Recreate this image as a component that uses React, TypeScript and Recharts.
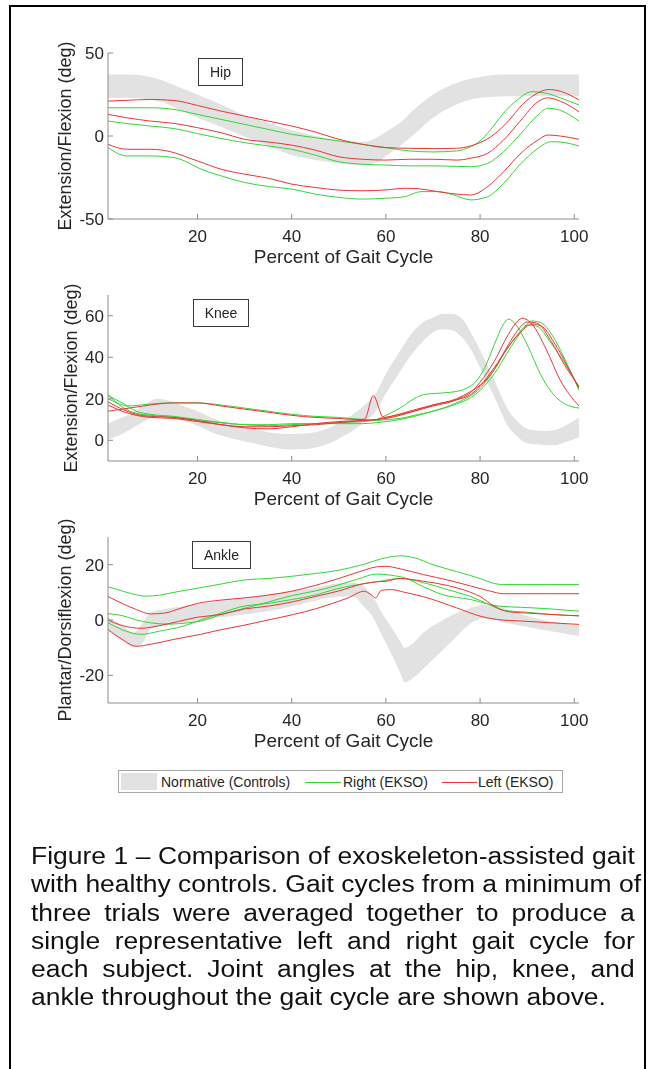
import React from "react";
import { ComposedChart, Line, Area, XAxis, YAxis, Legend } from "recharts";

const FONT = '"Liberation Sans", Arial, Helvetica, sans-serif';
const TEXT = "#262626";
const AXIS = "#8c8c8c";
const GREEN = "#33d633";
const RED = "#ec3434";
const BAND = "#e2e2e2";

type Pt = [number, number];
type BandPt = [number, number, number];

// shared x axis
const xTicks = [20, 40, 60, 80, 100];
const xDomain: [number, number] = [1, 101];
const xLabel = "Percent of Gait Cycle";

// ---- hip ----
const hipTicks = [-50, 0, 50];
const hipNormative: BandPt[] = [
  [1, 23, 37], [5, 23, 37], [10, 22, 35.5], [13, 20, 33], [16, 16, 29.5], [20, 11, 25],
  [25, 5.5, 19], [30, -0.5, 12.5], [35, -6, 8], [40, -11.5, 3.5], [45, -14.5, 0],
  [50, -16.5, -2.5], [55, -17.5, -3.5], [58, -16, -1], [60, -12, 2.5], [63, -6, 8],
  [66, 1, 16], [70, 11, 25], [75, 19, 32], [80, 23, 35.5], [85, 24, 37], [90, 24, 37],
  [95, 24, 37], [101, 24, 37],
];
const hipRightA: Pt[] = [
  [1, 17], [10, 17], [15, 16], [20, 13], [25, 10], [30, 7], [35, 4], [40, 1], [45, -1],
  [50, -3], [55, -5], [60, -7], [65, -9], [70, -9.6], [75, -9], [78, -6.4], [80, -3],
  [82, 3], [85, 13.8], [88, 22], [91, 26.7], [94, 25.8], [97, 23], [101, 18.7],
];
const hipRightB: Pt[] = [
  [1, 9], [5, 7.5], [10, 6], [15, 4.5], [20, 1.5], [25, -1.5], [30, -4], [35, -6], [40, -8],
  [45, -11.5], [50, -15.5], [55, -17], [60, -17.5], [65, -18], [70, -18], [75, -18.3],
  [78, -18.5], [81.6, -16.5], [85, -9.4], [88.7, 1.6], [92.3, 12.7], [94.4, 16.7],
  [97, 15.5], [101, 9],
];
const hipRightC: Pt[] = [
  [1, -7], [5, -12], [10, -12], [15, -13], [18, -16], [20, -19], [25, -24], [30, -28],
  [35, -30.4], [40, -32], [45, -35], [50, -37], [55, -38], [60, -37.5], [64, -36.6],
  [67.4, -33.5], [71, -33.5], [74.4, -35.5], [78, -38.5], [81.6, -36.6], [85, -28.5],
  [88.7, -16.5], [92.3, -7.4], [95.1, -3.4], [98, -4], [101, -6],
];
const hipLeftA: Pt[] = [
  [1, 21], [5, 21.5], [10, 22], [15, 21.4], [20, 18.4], [25, 15], [30, 12], [35, 9], [40, 6],
  [45, 2.4], [50, -2], [55, -5], [60, -7], [65, -7.4], [70, -7.6], [75, -7.4], [78, -6],
  [80, -4], [83, 1], [86, 9], [89, 19], [92, 25.5], [94.5, 28], [97, 27], [101, 21.7],
];
const hipLeftB: Pt[] = [
  [1, 13], [5, 11], [10, 9], [15, 7.6], [20, 5], [25, 2], [30, -2], [35, -3.6], [40, -5.5],
  [45, -8.5], [50, -12.5], [55, -14], [60, -14.5], [65, -14], [70, -14], [75, -14.5],
  [78, -13.4], [81.6, -10.4], [85, -2.4], [88.7, 9.6], [92.3, 20.7], [94.4, 23], [97, 21],
  [101, 14.6],
];
const hipLeftC: Pt[] = [
  [1, -5], [5, -8], [10, -8], [15, -10], [18, -13], [20, -15], [25, -20], [30, -23],
  [35, -25.4], [40, -29], [45, -31], [50, -32.6], [55, -33], [60, -32.5], [64, -31.5],
  [67, -31.8], [71, -33.5], [75, -35], [78, -35.5], [81.6, -30.5], [85, -21.5],
  [88.7, -10.3], [92.3, -2.4], [94.4, 0.6], [97, 0], [101, -2],
];

// ---- knee ----
const kneeTicks = [0, 20, 40, 60];
const kneeNormative: BandPt[] = [
  [1, 0.5, 8], [3, 2, 10], [6, 5.5, 13], [9, 9.5, 17.5], [11.5, 12, 20], [14, 11.5, 19],
  [17, 9.5, 16.5], [20, 7, 14], [24, 3, 10], [28, 0.5, 7.5], [32, -1.5, 5.5], [36, -3.5, 3.5],
  [40, -4.5, 3], [44, -4, 3.5], [48, -1.5, 6], [51, 2, 9.5], [55, 8, 16], [58, 14.5, 23],
  [60, 22.5, 32], [63, 33, 43], [65, 40, 50], [68, 48, 57], [70, 52, 59], [72, 53.5, 61],
  [74, 53, 61], [76, 50, 59], [78, 44, 52], [80, 35, 43.5], [83, 21, 29], [86, 6.5, 14.5],
  [88, 1.6, 9], [90, -1.5, 5.5], [93, -2.2, 4.5], [96, -2.4, 5], [98, -1, 7], [101, 1.5, 11],
];
const kneeRightA: Pt[] = [
  [1, 21.5], [4, 18], [7, 14], [10, 12.5], [15, 11.5], [20, 10], [25, 8.5], [30, 7.5],
  [35, 7], [40, 7.5], [45, 8], [50, 8.5], [55, 9], [58, 10], [60, 12], [63, 15.5], [66, 20],
  [68, 22], [72, 22.8], [75, 23.5], [77, 25], [79, 28], [81, 35], [83, 46], [85, 56],
  [86, 58.4], [87.5, 56], [90, 46], [93, 31], [96, 21], [98, 17.5], [101, 15.5],
];
const kneeRightB: Pt[] = [
  [1, 20], [3, 18], [5, 16.5], [8, 17], [10, 17.5], [15, 18], [20, 18], [25, 17], [30, 15.5],
  [35, 14], [40, 12.5], [45, 11.5], [50, 11], [55, 10], [58, 9.5], [60, 10], [63, 10.5],
  [66, 12], [70, 14], [75, 17.5], [78, 20.5], [80, 24], [83, 32], [86, 43], [89, 53],
  [91, 57.5], [93, 56.5], [96, 48], [98, 39], [101, 24],
];
const kneeRightC: Pt[] = [
  [1, 22], [4, 16], [7, 13], [10, 12], [15, 11], [20, 9.5], [25, 8.5], [30, 7.5], [35, 7.5],
  [40, 8], [45, 8], [50, 8], [55, 8], [58, 8.5], [60, 9], [63, 10], [66, 11.5], [70, 14],
  [75, 18], [78, 21.5], [80, 25], [83, 34], [86, 45], [88, 51], [90, 55.5], [92, 55],
  [95, 47], [98, 37], [101, 25.5],
];
const kneeLeftA: Pt[] = [
  [1, 18.5], [4, 15], [7, 12.5], [10, 11.5], [15, 11], [20, 9.5], [25, 7.5], [30, 6.5],
  [35, 6.5], [40, 7], [45, 7.5], [50, 8.5], [55, 9.5], [58, 10], [60, 11], [63, 12.5],
  [66, 14], [70, 16.5], [73, 18], [76, 20.5], [78, 23], [80, 28], [83, 38], [86, 51],
  [88, 57.5], [89, 58.8], [91, 56], [94, 44], [97, 29], [101, 16.5],
];
const kneeLeftB: Pt[] = [
  [1, 14], [4, 15], [7, 16], [10, 17], [15, 18], [20, 18], [25, 16.5], [30, 15], [35, 13.5],
  [40, 12], [45, 11], [50, 10.5], [54, 10], [55.5, 10.2], [57.3, 21.5], [59.5, 11], [62, 12],
  [65, 14], [70, 17], [75, 20], [78, 23.5], [80, 26.5], [83, 35], [86, 45], [89, 53],
  [91, 56], [93, 55], [96, 46], [98, 38], [101, 25],
];
const kneeLeftC: Pt[] = [
  [1, 17], [4, 14], [7, 12], [10, 11], [15, 10.5], [20, 9], [25, 7.5], [30, 6], [35, 5.5],
  [40, 6.5], [45, 8], [50, 9], [55, 9.5], [60, 10.5], [63, 12], [66, 14], [70, 17],
  [75, 19.5], [78, 22], [80, 26], [83, 34], [86, 46], [88, 53], [90, 57], [92, 56.5],
  [95, 48], [98, 36], [101, 26],
];

// ---- ankle ----
const ankleTicks = [-20, 0, 20];
const ankleNormative: BandPt[] = [
  [1, -3.5, 1], [4, -7.5, -2], [6.4, -9.9, -4.5], [8, -9, -2], [10, -3.4, 2.7], [13, -2, 4],
  [17, -1, 5], [24, 0.8, 6.7], [30, 2, 8], [35, 3.2, 9.2], [40, 5, 10.5], [45, 7, 11.6],
  [50, 8.5, 13.3], [53, 8.5, 13.5], [55, 5.5, 12.5], [57.5, 0.2, 7.8], [59, -5, 3],
  [61, -11.7, -2.2], [63, -19, -7.5], [64, -22.5, -10], [66, -20.7, -8], [68, -17.5, -4.5],
  [71.6, -11.7, -0.5], [75, -6, 2.5], [77.3, -2.2, 4], [80.8, 0.5, 5.4], [83, 0, 5.2],
  [85.9, -1.2, 3.8], [89, -2.2, 2], [93, -3.4, 0.2], [97, -4.6, -1], [101, -5.8, -2.2],
];
const ankleRightA: Pt[] = [
  [1, 12], [3, 11], [6, 9.5], [9, 8.6], [12, 9], [15, 10], [20, 11.5], [25, 13], [30, 14.5],
  [35, 15], [40, 15.8], [45, 16.8], [50, 18], [55, 20], [60, 22.5], [63, 23.2], [66, 22.5],
  [70, 20], [75, 17.5], [80, 15], [83, 13.2], [85, 12.8], [90, 12.8], [95, 12.8], [101, 12.8],
];
const ankleRightB: Pt[] = [
  [1, 2.3], [4, 1.6], [7, 0], [10, -1], [14, -1.5], [18, -1], [21, -0.3], [25, 2], [29, 3.8],
  [35, 6.5], [40, 8.8], [45, 10.5], [49, 12.2], [54, 14.8], [58, 16.6], [61, 16.2],
  [64, 15.2], [68, 12], [72, 9.2], [78, 7.4], [84, 5], [90, 4.5], [95, 4], [101, 3.2],
];
const ankleRightC: Pt[] = [
  [1, -1], [4, -3.5], [8, -5.2], [12, -4], [17, -2.2], [21, 0.2], [25, 2.5], [29, 4.7],
  [35, 6], [40, 7.4], [45, 9], [49, 11], [54, 12.8], [58, 13.8], [63, 15], [68, 13.5],
  [73, 11], [78, 8.5], [82, 5.5], [85, 3.5], [90, 2.8], [95, 2], [101, 1.5],
];
const ankleLeftA: Pt[] = [
  [1, 8.5], [4, 6], [7, 3.8], [10, 2.2], [13, 2.5], [16, 4], [20, 6], [25, 7.2], [30, 8],
  [35, 9], [40, 10.4], [45, 12.5], [50, 15], [55, 17.8], [58, 19.2], [60, 19.4], [63, 18.5],
  [68, 16.4], [73, 14.5], [78, 12.3], [82, 10.5], [85, 9.5], [90, 9.5], [95, 9.5], [101, 9.5],
];
const ankleLeftB: Pt[] = [
  [1, 0], [4, -2], [8, -3], [12, -2], [16, -0.5], [20, 1], [25, 2], [30, 4], [35, 5],
  [40, 6.5], [45, 8.5], [50, 10.5], [55, 13], [58, 13.8], [60, 14], [63, 15], [68, 14],
  [73, 12.5], [78, 10], [80, 8.5], [83, 5], [86, 3], [90, 2.5], [95, 2], [101, 1.5],
];
const ankleLeftC: Pt[] = [
  [1, -3.5], [4, -7], [7, -9.5], [10, -8.8], [15, -7], [20.6, -5.2], [25, -3.5], [29, -2.2],
  [35, 0], [40.4, 2], [45, 4], [49, 6.2], [52, 8], [55.4, 10.4], [56.8, 9.2], [57.8, 8],
  [59, 10.7], [61, 11], [64, 10], [68, 8.4], [75, 4.4], [80, 1.4], [83.5, 0.2], [89, -0.4],
  [95, -1], [101, -1.6],
];

const legendLabels = ["Normative (Controls)", "Right (EKSO)", "Left (EKSO)"];

const captionLines = [
  "Figure 1 \u2013 Comparison of exoskeleton-assisted gait",
  "with healthy controls. Gait cycles from a minimum of",
  "three trials were averaged together to produce a",
  "single representative left and right gait cycle for",
  "each subject. Joint angles at the hip, knee, and",
  "ankle throughout the gait cycle are shown above.",
];

const toBand = (b: BandPt[]) => b.map(([x, lo, hi]) => ({ x, band: [lo, hi] }));
const toLine = (s: Pt[]) => s.map(([x, y]) => ({ x, y }));

function LegendBox() {
  const item: React.CSSProperties = { position: "absolute", top: 3, fontSize: 14, lineHeight: "17px", color: TEXT, whiteSpace: "nowrap" };
  return (
    <div style={{ position: "relative", width: 445, height: 23, border: "1px solid #a8a8a8", background: "#fff", boxSizing: "border-box", fontFamily: FONT }}>
      <div style={{ position: "absolute", left: 2, top: 2, width: 36, height: 17, background: BAND }} />
      <span style={{ ...item, left: 42 }}>{legendLabels[0]}</span>
      <div style={{ position: "absolute", left: 186, top: 11, width: 36, height: 1, background: GREEN }} />
      <span style={{ ...item, left: 224 }}>{legendLabels[1]}</span>
      <div style={{ position: "absolute", left: 323, top: 11, width: 35, height: 1, background: RED }} />
      <span style={{ ...item, left: 359 }}>{legendLabels[2]}</span>
    </div>
  );
}

type PanelProps = {
  top: number;
  yDomain: [number, number];
  yTicks: number[];
  yLabel: string;
  axisW: number;
  band: BandPt[];
  right: Pt[][];
  left: Pt[][];
  tag: string;
  tagLeft: number;
  tagTop: number;
  tagWidth: number;
  withLegend?: boolean;
};

// plot box sits 40px below the top of each panel and is 166px tall
function Panel(p: PanelProps) {
  const tickStyle = { fill: TEXT, fontSize: 17, fontFamily: FONT };
  return (
    <div style={{ position: "absolute", left: 0, top: p.top }}>
      <ComposedChart width={630} height={255} margin={{ top: 40, right: 59, bottom: 5, left: 100 - p.axisW }}>
        <XAxis
          xAxisId="b"
          dataKey="x"
          type="number"
          domain={xDomain}
          ticks={xTicks}
          interval={0}
          allowDataOverflow
          height={44}
          tickSize={-5}
          tickMargin={16}
          stroke={AXIS}
          tick={tickStyle}
          label={{ value: xLabel, position: "insideBottom", offset: 0, fill: TEXT, fontSize: 19, fontFamily: FONT }}
        />
        <XAxis xAxisId="t" orientation="top" dataKey="x" type="number" domain={xDomain} ticks={xTicks} interval={0} allowDataOverflow height={0} tickSize={-5} tick={false} stroke={AXIS} />
        <YAxis
          yAxisId="l"
          type="number"
          domain={p.yDomain}
          ticks={p.yTicks}
          interval={0}
          allowDataOverflow
          width={p.axisW}
          tickSize={-5}
          tickMargin={9}
          stroke={AXIS}
          tick={tickStyle}
          label={{ value: p.yLabel, angle: -90, position: "center", fill: TEXT, fontSize: 18, fontFamily: FONT }}
        />
        <YAxis yAxisId="r" orientation="right" type="number" domain={p.yDomain} ticks={p.yTicks} interval={0} allowDataOverflow width={0} tickSize={-5} tick={false} stroke={AXIS} />
        <Area xAxisId="b" yAxisId="l" data={toBand(p.band)} dataKey="band" type="monotone" stroke="none" fill={BAND} fillOpacity={1} isAnimationActive={false} />
        {p.right.map((s, i) => (
          <Line key={"r" + i} xAxisId="b" yAxisId="l" data={toLine(s)} dataKey="y" type="monotone" stroke={GREEN} strokeWidth={1} dot={false} isAnimationActive={false} />
        ))}
        {p.left.map((s, i) => (
          <Line key={"l" + i} xAxisId="b" yAxisId="l" data={toLine(s)} dataKey="y" type="monotone" stroke={RED} strokeWidth={1} dot={false} isAnimationActive={false} />
        ))}
        {p.withLegend && (
          <Legend
            layout="horizontal"
            verticalAlign="middle"
            align="center"
            content={() => <LegendBox />}
            wrapperStyle={{ left: 110, top: 273, width: 445, height: 23 }}
          />
        )}
      </ComposedChart>
      <div
        style={{
          position: "absolute",
          left: p.tagLeft,
          top: p.tagTop,
          width: p.tagWidth,
          height: 28,
          border: "1px solid #3a3a3a",
          boxSizing: "border-box",
          fontSize: 14,
          lineHeight: "26px",
          textAlign: "center",
          color: TEXT,
          fontFamily: FONT,
        }}
      >
        {p.tag}
      </div>
    </div>
  );
}

export default function App() {
  return (
    <div style={{ position: "relative", width: 638, height: 1040, fontFamily: FONT, color: TEXT }}>
      <div style={{ position: "fixed", left: 9, top: 5, width: 637, height: 1100, border: "2px solid #000", boxSizing: "border-box", pointerEvents: "none" }} />
      <Panel top={5} yDomain={[-50, 50]} yTicks={hipTicks} yLabel="Extension/Flexion (deg)" axisW={86} band={hipNormative}
        right={[hipRightA, hipRightB, hipRightC]} left={[hipLeftA, hipLeftB, hipLeftC]} tag="Hip" tagLeft={190} tagTop={45} tagWidth={45} />
      <Panel top={247} yDomain={[-10, 70]} yTicks={kneeTicks} yLabel="Extension/Flexion (deg)" axisW={74} band={kneeNormative}
        right={[kneeRightA, kneeRightB, kneeRightC]} left={[kneeLeftA, kneeLeftB, kneeLeftC]} tag="Knee" tagLeft={185} tagTop={44} tagWidth={56} />
      <Panel top={489} yDomain={[-30, 30]} yTicks={ankleTicks} yLabel="Plantar/Dorsiflexion (deg)" axisW={86} band={ankleNormative}
        right={[ankleRightA, ankleRightB, ankleRightC]} left={[ankleLeftA, ankleLeftB, ankleLeftC]} tag="Ankle" tagLeft={184} tagTop={44} tagWidth={59} withLegend />
      <div style={{ position: "absolute", left: 23, top: 834, width: 525, transform: "scaleX(1.15)", transformOrigin: "0 0", fontSize: 23, lineHeight: "28.3px", color: "#111" }}>
        {captionLines.map((t, i) => (
          <div key={i} style={{ textAlign: i < captionLines.length - 1 ? "justify" : "left", textAlignLast: i < captionLines.length - 1 ? "justify" : "left", whiteSpace: "nowrap" }}>
            {t}
          </div>
        ))}
      </div>
    </div>
  );
}
